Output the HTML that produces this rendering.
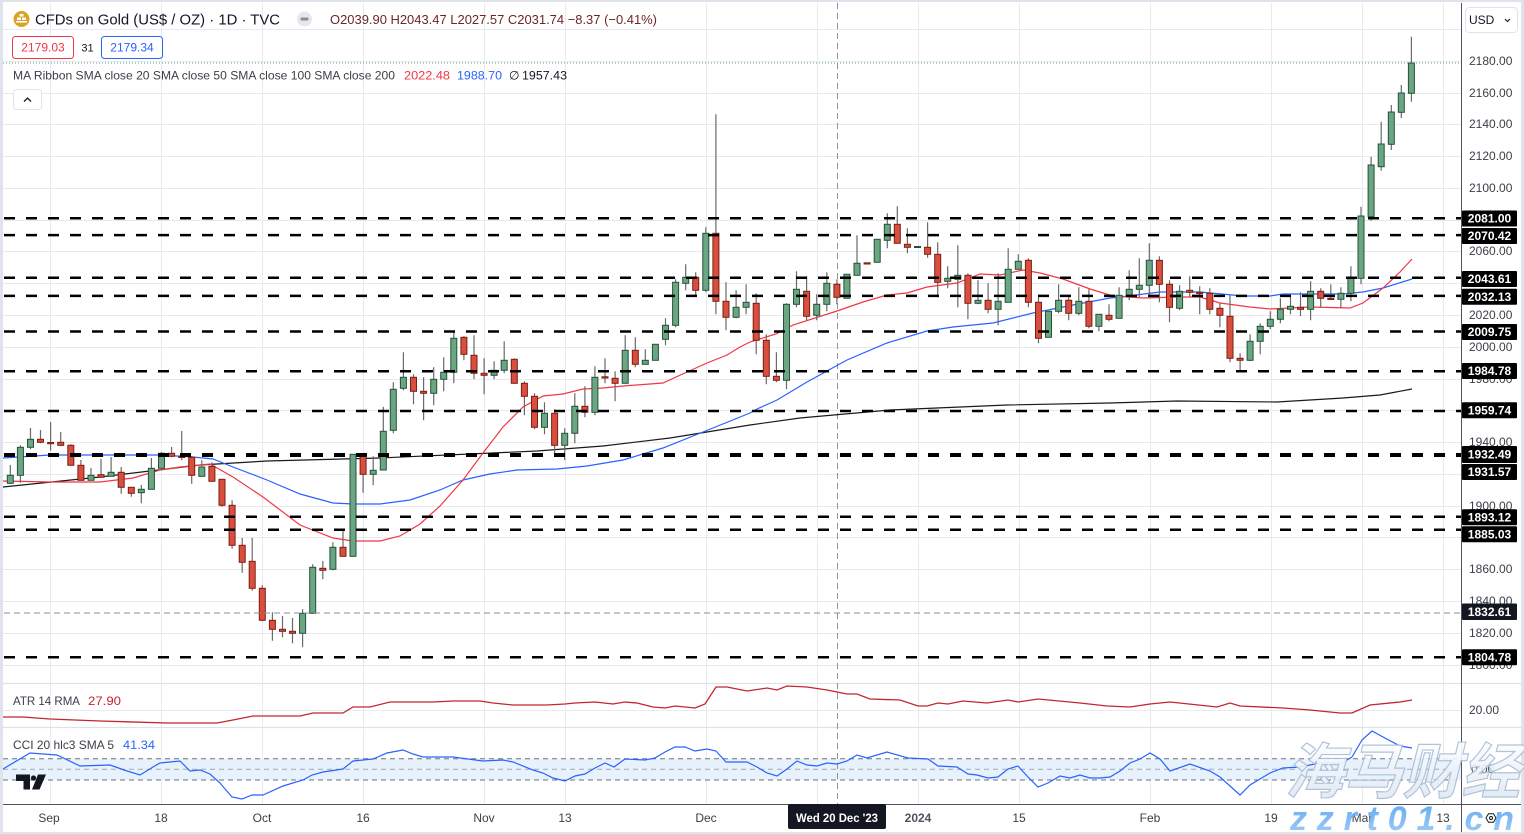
<!DOCTYPE html>
<html><head><meta charset="utf-8"><style>
html,body{margin:0;padding:0;background:#fff;}
svg{display:block;font-family:"Liberation Sans",sans-serif;}
</style></head><body>
<svg width="1524" height="834" viewBox="0 0 1524 834" xmlns="http://www.w3.org/2000/svg">
<defs>
<linearGradient id="wm" x1="0" y1="0" x2="0" y2="1"><stop offset="0" stop-color="#ffffff"/><stop offset="1" stop-color="#dbe6f3"/></linearGradient>
<linearGradient id="wm2" x1="0" y1="0" x2="0" y2="1"><stop offset="0" stop-color="#4d9ff0"/><stop offset="1" stop-color="#9ccbf8"/></linearGradient>
</defs>
<rect width="1524" height="834" fill="#fff"/>
<!-- grid -->
<g stroke="#e9eaee" stroke-width="1">
<path d="M3 29.5H1461M3 61.5H1461M3 93.5H1461M3 124.5H1461M3 156.5H1461M3 188.5H1461M3 220.5H1461M3 251.5H1461M3 283.5H1461M3 315.5H1461M3 347.5H1461M3 379.5H1461M3 410.5H1461M3 442.5H1461M3 474.5H1461M3 506.5H1461M3 537.5H1461M3 569.5H1461M3 601.5H1461M3 633.5H1461M3 665.5H1461M3 710.5H1461"/>
<path d="M50.5 3V804M161.5 3V804M262.5 3V804M363.5 3V804M484.5 3V804M565.5 3V804M706.5 3V804M817.5 3V804M918.5 3V804M1019.5 3V804M1150.5 3V804M1271.5 3V804M1362.5 3V804M1443.5 3V804"/>
</g>
<!-- pane separators -->
<path d="M3 683.5H1521M3 727.5H1521" stroke="#dfe1e7" stroke-width="1.2"/>
<!-- CCI band -->
<rect x="3" y="758.7" width="1458" height="21.3" fill="#e7f2fd"/>
<g stroke="#6f727c" stroke-width="1" stroke-dasharray="5 4" fill="none">
<path d="M3 758.7H1461M3 780H1461"/>
<path d="M3 769.3H1461" stroke="#a4a7b0"/>
</g>
<!-- crosshair -->
<path d="M837.5 3V804" stroke="#8f929b" stroke-width="1" stroke-dasharray="6 4"/>
<!-- last price dotted -->
<path d="M3 63H1461" stroke="#5f9a78" stroke-width="1" stroke-dasharray="1 2"/>
<!-- MA lines -->
<polyline fill="none" stroke="#1a1a1a" stroke-width="1.2" points="3,487 100,477 200,465 267,461 380,458 537,451 603,446 670,438 750,425 800,418 890,410 1007,405 1110,403 1177,401 1277,402 1343,398 1380,395 1412,389"/>
<polyline fill="none" stroke="#2962ff" stroke-width="1.2" points="3,458 50,455 100,455 160,455 193,457 213,459 233,467 267,480 300,494 333,503 353,504 380,504 410,500 440,490 463,480 490,474 517,470 557,469 587,466 623,460 663,448 703,432 750,413 757,409 777,400 807,382 847,360 887,343 927,331 953,327 993,323 1033,313 1073,305 1110,298 1120,297 1160,292 1200,292 1243,296 1270,296 1283,294 1343,294 1363,292 1383,288 1412,279"/>
<polyline fill="none" stroke="#f23645" stroke-width="1.2" points="3,481 50,482 100,482 133,478 160,470 180,467 210,464 233,477 263,497 300,525 333,538 353,541 380,541 400,536 420,524 440,506 463,480 483,453 503,427 523,407 543,396 563,394 583,389 603,388 623,386 663,383 687,372 707,363 727,355 740,347 750,342 776,334 793,325 837,311 863,302 887,295 907,293 927,287 957,283 980,274 1000,275 1023,270 1040,273 1063,279 1090,289 1113,296 1143,298 1177,297 1200,297 1220,303 1250,307 1270,309 1310,307 1350,308 1363,303 1383,288 1400,272 1412,259"/>
<!-- wicks -->
<path fill="none" stroke="#6a6a6a" stroke-width="1.2" d="M10.3 465V484M20.4 445.3V482.7M30.5 428V449.3M40.5 430V443.3M50.6 422V450.7M60.7 432V446.3M70.8 444.3V465.3M80.9 460V480.3M91 468V480.3M101 458.7V477.3M111.1 457V476.3M121.2 467V493.7M131.3 487.3V496.7M141.3 485V503.3M151.4 458V489.3M161.5 452V468.3M171.6 447V457.3M181.7 431V460.3M191.7 456V483.7M201.8 460.3V476.3M211.9 462.3V481.3M222 479.3V506.7M232.1 500.3V548.7M242.2 538V572.7M252.2 538V590.7M262.3 585.3V621.3M272.4 612.3V640.7M282.5 616V637.3M292.5 618V643.3M302.6 609.3V647.3M312.7 564.3V613.3M322.8 561V579.3M332.9 542.3V570.3M343 530.3V556.3M353 454.3V556.3M363.1 453.3V492.7M373.2 456.3V485.3M383.3 406.7V470M393.3 382.3V433.3M403.4 352.3V390.3M413.5 374.3V404.3M423.6 377.3V420.3M433.7 367.3V405.3M443.7 357.3V391.3M453.8 332.3V383.3M463.9 336.3V360.3M474 335.3V379.3M484.1 358.3V394.3M494.1 361.3V379.3M504.2 341.3V373.3M514.3 358.3V383.3M524.4 381.3V415.3M534.5 393.3V429.3M544.5 402.3V434.3M554.6 409.3V453.3M564.7 428.3V460.3M574.8 393.3V443.3M584.9 386.3V417.3M594.9 366.3V415.3M605 358.3V383.3M615.1 371.3V401.3M625.2 335.3V383.3M635.3 337.3V367.3M645.3 349.3V364.3M655.4 344.3V360.3M665.5 318.3V345.3M675.6 279.3V327.3M685.7 264.3V290.3M695.7 272.3V296.3M705.8 227.3V292.3M715.9 114.3V314.3M726 282.3V330.3M736.1 290.3V318.3M746.1 284.3V314.3M756.2 293.3V354.3M766.3 334.3V384.3M776.4 352.3V382.3M786.5 303.3V389.3M796.5 271.3V307.3M806.6 276.3V320.3M816.7 294.3V320.3M826.8 272.3V311.3M836.9 279.3V304.3M846.9 274.3V298.3M857 235.3V275.3M877.2 239.3V262.3M887.3 213.3V248.3M897.3 206.3V243.3M907.4 228.3V253.3M927.6 222.3V257.7M937.7 242.3V297.3M947.7 266.3V288.3M957.8 245.3V307.3M967.9 273.3V319.3M978 280.3V304.3M988.1 283.3V313.3M998.1 273.3V325.3M1008.2 248.3V302.3M1018.3 254.3V269.3M1028.4 258.3V307.3M1038.5 295.3V343.3M1048.5 311.3V337.3M1058.6 284.3V313.3M1068.7 297.3V320.3M1078.8 287.3V315.3M1088.9 289.3V328.3M1098.9 314.3V331.3M1109 304.3V321.3M1119.1 287.3V318.3M1129.2 270.3V300.3M1139.3 258.3V297.3M1149.3 243.3V298.3M1159.4 256.3V302.3M1169.5 280.3V322.3M1179.6 285.3V310.3M1189.7 276.3V297.3M1199.7 286.3V314.3M1209.8 288.3V314.3M1219.9 303.3V327.3M1230 295.3V362.3M1240.1 353.3V371.3M1250.1 334.3V361.3M1260.2 323.3V354.3M1270.3 311.3V329.3M1280.4 298.3V323.3M1290.5 296.3V314.3M1300.5 292.3V316M1310.6 281.3V320.3M1320.7 288.3V307.3M1330.8 284.3V299.3M1340.9 287.3V308.3M1350.9 266.3V301.3M1361 206.7V284.3M1371.1 156.7V220.7M1381.2 121.7V170.7M1391.3 105V150M1401.3 85V118M1411.4 36.7V101.7"/>
<!-- green bodies -->
<g fill="#6ba583" stroke="#225437" stroke-width="1">
<rect x="7.3" y="475.3" width="6" height="8"/>
<rect x="17.4" y="447.3" width="6" height="28"/>
<rect x="27.5" y="439.3" width="6" height="8"/>
<rect x="88" y="475.3" width="6" height="5"/>
<rect x="108.1" y="472.3" width="6" height="4"/>
<rect x="138.3" y="489.3" width="6" height="3.4"/>
<rect x="148.4" y="468.3" width="6" height="21"/>
<rect x="158.5" y="453.3" width="6" height="15"/>
<rect x="198.8" y="467" width="6" height="9.3"/>
<rect x="299.6" y="613.3" width="6" height="20"/>
<rect x="309.7" y="567.3" width="6" height="46"/>
<rect x="329.9" y="547.3" width="6" height="22"/>
<rect x="350" y="454.3" width="6" height="102"/>
<rect x="370.2" y="470.3" width="6" height="4"/>
<rect x="380.3" y="431.3" width="6" height="38.7"/>
<rect x="390.3" y="389.3" width="6" height="41"/>
<rect x="400.4" y="377.3" width="6" height="11"/>
<rect x="430.7" y="379.3" width="6" height="14"/>
<rect x="440.7" y="372.3" width="6" height="7"/>
<rect x="450.8" y="338.3" width="6" height="34"/>
<rect x="491.1" y="370.3" width="6" height="5"/>
<rect x="501.2" y="360.3" width="6" height="10"/>
<rect x="541.5" y="413.3" width="6" height="14"/>
<rect x="561.7" y="433.3" width="6" height="12"/>
<rect x="571.8" y="406.3" width="6" height="27"/>
<rect x="591.9" y="377.3" width="6" height="35"/>
<rect x="622.2" y="350.3" width="6" height="33"/>
<rect x="642.3" y="360.3" width="6" height="4"/>
<rect x="652.4" y="344.3" width="6" height="16"/>
<rect x="662.5" y="325.3" width="6" height="14"/>
<rect x="672.6" y="282.3" width="6" height="43"/>
<rect x="682.7" y="277.3" width="6" height="6"/>
<rect x="702.8" y="233.3" width="6" height="57"/>
<rect x="733.1" y="307.3" width="6" height="10"/>
<rect x="743.1" y="302.3" width="6" height="5"/>
<rect x="783.5" y="304.3" width="6" height="76"/>
<rect x="793.5" y="289.3" width="6" height="15"/>
<rect x="813.7" y="304.3" width="6" height="11"/>
<rect x="823.8" y="283.3" width="6" height="21"/>
<rect x="843.9" y="274.3" width="6" height="24"/>
<rect x="854" y="263.3" width="6" height="12"/>
<rect x="874.2" y="239.3" width="6" height="23"/>
<rect x="884.3" y="224.3" width="6" height="16"/>
<rect x="914.5" y="246.5" width="6" height="1"/>
<rect x="944.7" y="278.3" width="6" height="3"/>
<rect x="954.8" y="275.3" width="6" height="4"/>
<rect x="975" y="300.3" width="6" height="3"/>
<rect x="995.1" y="301.3" width="6" height="8"/>
<rect x="1005.2" y="269.3" width="6" height="33"/>
<rect x="1015.3" y="261.3" width="6" height="8"/>
<rect x="1045.5" y="311.3" width="6" height="26"/>
<rect x="1055.6" y="300.3" width="6" height="11"/>
<rect x="1075.8" y="301.3" width="6" height="12"/>
<rect x="1095.9" y="314.3" width="6" height="12"/>
<rect x="1116.1" y="295.3" width="6" height="23"/>
<rect x="1126.2" y="289.3" width="6" height="7"/>
<rect x="1136.3" y="285.3" width="6" height="4"/>
<rect x="1146.3" y="260.3" width="6" height="25"/>
<rect x="1176.6" y="291.3" width="6" height="17"/>
<rect x="1247.1" y="341.3" width="6" height="19"/>
<rect x="1257.2" y="326.3" width="6" height="15"/>
<rect x="1267.3" y="319.3" width="6" height="7"/>
<rect x="1277.4" y="309.3" width="6" height="10"/>
<rect x="1287.5" y="306.3" width="6" height="3"/>
<rect x="1307.6" y="291.3" width="6" height="18"/>
<rect x="1337.9" y="293.3" width="6" height="6"/>
<rect x="1347.9" y="277.3" width="6" height="16"/>
<rect x="1358" y="216" width="6" height="62.3"/>
<rect x="1368.1" y="165" width="6" height="51.7"/>
<rect x="1378.2" y="144" width="6" height="22.7"/>
<rect x="1388.3" y="112" width="6" height="32.3"/>
<rect x="1398.3" y="93" width="6" height="19.3"/>
<rect x="1408.4" y="63" width="6" height="30.3"/>
</g>
<!-- red bodies -->
<g fill="#d84f3e" stroke="#7d1d14" stroke-width="1">
<rect x="37.5" y="439.3" width="6" height="3"/>
<rect x="47.6" y="442.5" width="6" height="1.2"/>
<rect x="57.7" y="442.3" width="6" height="3"/>
<rect x="67.8" y="445.3" width="6" height="20"/>
<rect x="77.9" y="465.3" width="6" height="15"/>
<rect x="98" y="474.7" width="6" height="2.6"/>
<rect x="118.2" y="472.3" width="6" height="15"/>
<rect x="128.3" y="487.3" width="6" height="6"/>
<rect x="168.6" y="453.3" width="6" height="3"/>
<rect x="178.7" y="456.3" width="6" height="1.2"/>
<rect x="188.7" y="457.3" width="6" height="18"/>
<rect x="208.9" y="466.3" width="6" height="15"/>
<rect x="219" y="479.3" width="6" height="26"/>
<rect x="229.1" y="505.3" width="6" height="40"/>
<rect x="239.2" y="545.3" width="6" height="17"/>
<rect x="249.2" y="561.3" width="6" height="27"/>
<rect x="259.3" y="588.3" width="6" height="32"/>
<rect x="269.4" y="620.3" width="6" height="9"/>
<rect x="279.5" y="629.3" width="6" height="2"/>
<rect x="289.5" y="631.3" width="6" height="2"/>
<rect x="319.8" y="568.3" width="6" height="2"/>
<rect x="340" y="547.3" width="6" height="9"/>
<rect x="360.1" y="454.3" width="6" height="20"/>
<rect x="410.5" y="377.3" width="6" height="14"/>
<rect x="420.6" y="391.3" width="6" height="2"/>
<rect x="460.9" y="337.3" width="6" height="17"/>
<rect x="471" y="355.3" width="6" height="18"/>
<rect x="481.1" y="373.3" width="6" height="2"/>
<rect x="511.3" y="359.3" width="6" height="24"/>
<rect x="521.4" y="383.3" width="6" height="13"/>
<rect x="531.5" y="396.3" width="6" height="31"/>
<rect x="551.6" y="413.3" width="6" height="32"/>
<rect x="581.9" y="406.3" width="6" height="6"/>
<rect x="602" y="376.8" width="6" height="1.2"/>
<rect x="612.1" y="378.3" width="6" height="5"/>
<rect x="632.3" y="350.3" width="6" height="14"/>
<rect x="692.7" y="277.3" width="6" height="13"/>
<rect x="712.9" y="233.3" width="6" height="68"/>
<rect x="723" y="301.3" width="6" height="16"/>
<rect x="753.2" y="303.3" width="6" height="37"/>
<rect x="763.3" y="340.3" width="6" height="36"/>
<rect x="773.4" y="376.3" width="6" height="4"/>
<rect x="803.6" y="291.3" width="6" height="25"/>
<rect x="833.9" y="284.3" width="6" height="13"/>
<rect x="864.1" y="262.8" width="6" height="1.2"/>
<rect x="894.3" y="224.3" width="6" height="19"/>
<rect x="904.4" y="244.3" width="6" height="3"/>
<rect x="924.6" y="247.3" width="6" height="7"/>
<rect x="934.7" y="254.3" width="6" height="28"/>
<rect x="964.9" y="275.3" width="6" height="28"/>
<rect x="985.1" y="300.3" width="6" height="9"/>
<rect x="1025.4" y="260.3" width="6" height="42"/>
<rect x="1035.5" y="302.3" width="6" height="36"/>
<rect x="1065.7" y="300.3" width="6" height="13"/>
<rect x="1085.9" y="301.3" width="6" height="25"/>
<rect x="1106" y="315.3" width="6" height="4"/>
<rect x="1156.4" y="260.3" width="6" height="24"/>
<rect x="1166.5" y="284.3" width="6" height="23"/>
<rect x="1186.7" y="290.3" width="6" height="2"/>
<rect x="1196.7" y="292.3" width="6" height="1.2"/>
<rect x="1206.8" y="293.3" width="6" height="16"/>
<rect x="1216.9" y="308.3" width="6" height="7"/>
<rect x="1227" y="316.3" width="6" height="42"/>
<rect x="1237.1" y="358.3" width="6" height="2"/>
<rect x="1297.5" y="307.3" width="6" height="2"/>
<rect x="1317.7" y="291.3" width="6" height="7"/>
<rect x="1327.8" y="298.3" width="6" height="1.2"/>
</g>
<!-- horizontal levels -->
<g stroke="#000" stroke-width="2.5" stroke-dasharray="11 11" fill="none">
<path d="M4 218.3H1461M4 235.1H1461M4 277.7H1461M4 295.9H1461M4 331.5H1461M4 371.2H1461M4 411H1461M4 454.3H1461M4 455.7H1461M4 516.8H1461M4 529.7H1461M4 657.2H1461"/>
</g>
<path d="M4 613H1461" stroke="#8a8d96" stroke-width="1" stroke-dasharray="6 4"/>
<!-- ATR -->
<polyline fill="none" stroke="#c2262e" stroke-width="1.3" points="3,717 23,717 50,719 100,721 167,723 217,723 233,720 253,716 300,716 313,713 343,713 353,707 370,707 390,702 433,702 453,701 480,701 493,703 513,705 547,705 565,704 575,703 595,702 613,704 625,702 637,703 653,707 665,708 675,706 695,708 705,704 716,687 727,687 747,691 767,688 777,690 787,686 807,687 827,690 847,694 857,694 870,699 900,700 918,706 927,706 938,703 948,704 963,701 987,703 1008,700 1018,702 1038,699 1080,703 1107,706 1130,707 1150,704 1170,702 1217,707 1230,703 1240,706 1283,708 1310,710 1340,713 1352,713 1370,705 1400,702 1412,700"/>
<!-- CCI -->
<polyline fill="none" stroke="#2962ff" stroke-width="1.2" points="3,769 30,753 57,755 80,766 110,765 127,771 140,775 153,767 160,763 180,761 190,771 200,770 210,774 220,783 232,797 242,799 252,795 263,795 283,786 303,780 312,775 323,772 343,769 353,761 373,759 387,753 403,750 413,754 423,757 453,757 483,761 503,760 513,762 533,770 543,773 553,778 565,781 575,776 585,774 595,768 605,763 614,767 625,759 645,760 655,758 665,752 675,747 685,747 695,751 707,749 716,751 726,762 747,762 757,767 767,773 777,776 787,769 797,761 807,765 817,766 827,763 837,764 847,761 857,755 867,758 887,752 908,758 928,759 938,766 957,767 968,774 977,775 988,778 998,777 1008,769 1018,766 1028,777 1038,787 1048,783 1060,776 1070,778 1080,775 1090,778 1100,778 1110,777 1120,771 1130,763 1140,759 1150,753 1160,759 1170,771 1190,764 1210,771 1220,777 1240,795 1250,785 1270,773 1283,768 1300,767 1320,763 1342,763 1352,757 1362,740 1372,731 1383,737 1400,746 1412,748"/>
<!-- axes -->
<path d="M1461.5 3V834" stroke="#50535e" stroke-width="1"/>
<path d="M3 804.5H1521" stroke="#50535e" stroke-width="1"/>
<!-- frame -->
<rect x="0" y="0" width="3" height="834" fill="#e0e3eb"/>
<rect x="0" y="0" width="1524" height="2" fill="#e0e3eb"/>
<rect x="1521" y="0" width="3" height="834" fill="#e0e3eb"/>
<rect x="0" y="832" width="1524" height="2" fill="#e0e3eb"/>
<!-- price axis labels -->
<g font-size="12" fill="#3c3f48">
<text x="1469" y="65">2180.00</text>
<text x="1469" y="97">2160.00</text>
<text x="1469" y="128">2140.00</text>
<text x="1469" y="160">2120.00</text>
<text x="1469" y="192">2100.00</text>
<text x="1469" y="255">2060.00</text>
<text x="1469" y="319">2020.00</text>
<text x="1469" y="351">2000.00</text>
<text x="1469" y="383">1980.00</text>
<text x="1469" y="446">1940.00</text>
<text x="1469" y="510">1900.00</text>
<text x="1469" y="573">1860.00</text>
<text x="1469" y="605">1840.00</text>
<text x="1469" y="637">1820.00</text>
<text x="1469" y="669">1800.00</text>
<text x="1469" y="714">20.00</text>
<text x="1471" y="773">0.00</text>
</g>
<!-- price level boxes -->
<g fill="#000">
<rect x="1462" y="210.5" width="55" height="16" rx="1"/>
<rect x="1462" y="228" width="55" height="16" rx="1"/>
<rect x="1462" y="271" width="55" height="16" rx="1"/>
<rect x="1462" y="288.7" width="55" height="16" rx="1"/>
<rect x="1462" y="324" width="55" height="16" rx="1"/>
<rect x="1462" y="363" width="55" height="16" rx="1"/>
<rect x="1462" y="402.3" width="55" height="16" rx="1"/>
<rect x="1462" y="446" width="55" height="17" rx="1"/>
<rect x="1462" y="464" width="55" height="16" rx="1"/>
<rect x="1462" y="509.3" width="55" height="16" rx="1"/>
<rect x="1462" y="526.3" width="55" height="16" rx="1"/>
<rect x="1462" y="603.5" width="55" height="16.5" rx="1" fill="#131722"/>
<rect x="1462" y="649.3" width="55" height="16" rx="1"/>
</g>
<g font-size="12" font-weight="bold" fill="#fff" text-anchor="middle">
<text x="1489.5" y="222.7">2081.00</text>
<text x="1489.5" y="240.2">2070.42</text>
<text x="1489.5" y="283.2">2043.61</text>
<text x="1489.5" y="300.9">2032.13</text>
<text x="1489.5" y="336.2">2009.75</text>
<text x="1489.5" y="375.2">1984.78</text>
<text x="1489.5" y="414.5">1959.74</text>
<text x="1489.5" y="458.7">1932.49</text>
<text x="1489.5" y="476.2">1931.57</text>
<text x="1489.5" y="521.5">1893.12</text>
<text x="1489.5" y="538.5">1885.03</text>
<text x="1489.5" y="616">1832.61</text>
<text x="1489.5" y="661.5">1804.78</text>
</g>
<!-- USD button -->
<rect x="1465.5" y="7.5" width="52" height="25" rx="4" fill="#fff" stroke="#e0e3eb"/>
<text x="1469" y="24" font-size="12" fill="#131722">USD</text>
<path d="M1505 19l2.5 2.5 2.5-2.5" fill="none" stroke="#131722" stroke-width="1.1"/>
<!-- header -->
<circle cx="21.5" cy="19" r="8" fill="#d9a423"/>
<path d="M17 17.5h4v2.5h-4zM22 17.5h4v2.5h-4zM19.5 14h4v2.5h-4zM16 21h11v1.5h-11z" fill="#fff"/>
<text x="35" y="24.5" font-size="15" fill="#131722" textLength="245" lengthAdjust="spacingAndGlyphs">CFDs on Gold (US$ / OZ) · 1D · TVC</text>
<circle cx="304.5" cy="19" r="7.5" fill="#e6e7eb"/>
<rect x="300.5" y="17.5" width="8" height="3" rx="1" fill="#8a8d96"/>
<text x="330" y="24" font-size="13" fill="#6e2525" textLength="327" lengthAdjust="spacingAndGlyphs">O2039.90 H2043.47 L2027.57 C2031.74 −8.37 (−0.41%)</text>
<rect x="12.5" y="36.5" width="61" height="22" rx="3" fill="#fff" stroke="#f23645"/>
<text x="43" y="51.5" font-size="12" fill="#f23645" text-anchor="middle">2179.03</text>
<text x="87.5" y="51.5" font-size="11" fill="#131722" text-anchor="middle">31</text>
<rect x="101.5" y="36.5" width="61" height="22" rx="3" fill="#fff" stroke="#2962ff"/>
<text x="132" y="51.5" font-size="12" fill="#2962ff" text-anchor="middle">2179.34</text>
<text x="13" y="79.5" font-size="12" fill="#3c3f48" textLength="382" lengthAdjust="spacingAndGlyphs">MA Ribbon SMA close 20 SMA close 50 SMA close 100 SMA close 200</text>
<text x="404" y="79.5" font-size="12" fill="#f23645" textLength="46" lengthAdjust="spacingAndGlyphs">2022.48</text>
<text x="457" y="79.5" font-size="12" fill="#2962ff" textLength="45" lengthAdjust="spacingAndGlyphs">1988.70</text>
<text x="509" y="79.5" font-size="12" fill="#131722">∅</text>
<text x="522" y="79.5" font-size="12" fill="#131722" textLength="45" lengthAdjust="spacingAndGlyphs">1957.43</text>
<rect x="13.5" y="89.5" width="28" height="20" rx="3" fill="#fff" stroke="#e0e3eb"/>
<path d="M24 101.5l3.5-3.5 3.5 3.5" fill="none" stroke="#131722" stroke-width="1.3"/>
<!-- sub-pane legends -->
<text x="13" y="705" font-size="12" fill="#3c3f48" textLength="67" lengthAdjust="spacingAndGlyphs">ATR 14 RMA</text>
<text x="88" y="705" font-size="12" fill="#c2262e" textLength="33" lengthAdjust="spacingAndGlyphs">27.90</text>
<text x="13" y="749" font-size="12" fill="#3c3f48" textLength="101" lengthAdjust="spacingAndGlyphs">CCI 20 hlc3 SMA 5</text>
<text x="123" y="749" font-size="12" fill="#2962ff" textLength="32" lengthAdjust="spacingAndGlyphs">41.34</text>
<!-- TV logo -->
<path d="M16 774.5h14v15h-6.5v-8.5h-7.5z" fill="#131722"/>
<circle cx="33.5" cy="778" r="2.6" fill="#131722"/>
<path d="M38 774.5h8l-6.5 15h-7.5z" fill="#131722"/>
<!-- time axis -->
<g font-size="12" fill="#3c3f48" text-anchor="middle">
<text x="49" y="822">Sep</text>
<text x="161" y="822">18</text>
<text x="262" y="822">Oct</text>
<text x="363" y="822">16</text>
<text x="484" y="822">Nov</text>
<text x="565" y="822">13</text>
<text x="706" y="822">Dec</text>
<text x="918" y="822" font-weight="bold" fill="#50535e">2024</text>
<text x="1019" y="822">15</text>
<text x="1150" y="822">Feb</text>
<text x="1271" y="822">19</text>
<text x="1362" y="822">Mar</text>
<text x="1443" y="822">13</text>
</g>
<rect x="788" y="804" width="98" height="25" rx="2" fill="#131722"/>
<text x="837" y="822" font-size="12" font-weight="bold" fill="#fff" text-anchor="middle" textLength="82" lengthAdjust="spacingAndGlyphs">Wed 20 Dec '23</text>
<!-- settings icon -->
<path d="M1486 818l2.5-4.3h5l2.5 4.3-2.5 4.3h-5z" fill="none" stroke="#131722" stroke-width="1"/>
<circle cx="1491" cy="818" r="1.5" fill="none" stroke="#131722"/>
<!-- watermark -->
<text x="1285" y="793" font-size="60" font-style="italic" font-weight="bold" font-family="'Liberation Sans','Noto Sans CJK SC','WenQuanYi Zen Hei',sans-serif" fill="url(#wm)" stroke="#aabdd5" stroke-width="1.2" textLength="235" lengthAdjust="spacingAndGlyphs" opacity="0.9">海马财经</text>
<text x="1290" y="830" font-size="34" font-style="italic" font-weight="bold" fill="url(#wm2)" textLength="224" lengthAdjust="spacing" opacity="0.9">zzrt01.cn</text>
</svg>
</body></html>
